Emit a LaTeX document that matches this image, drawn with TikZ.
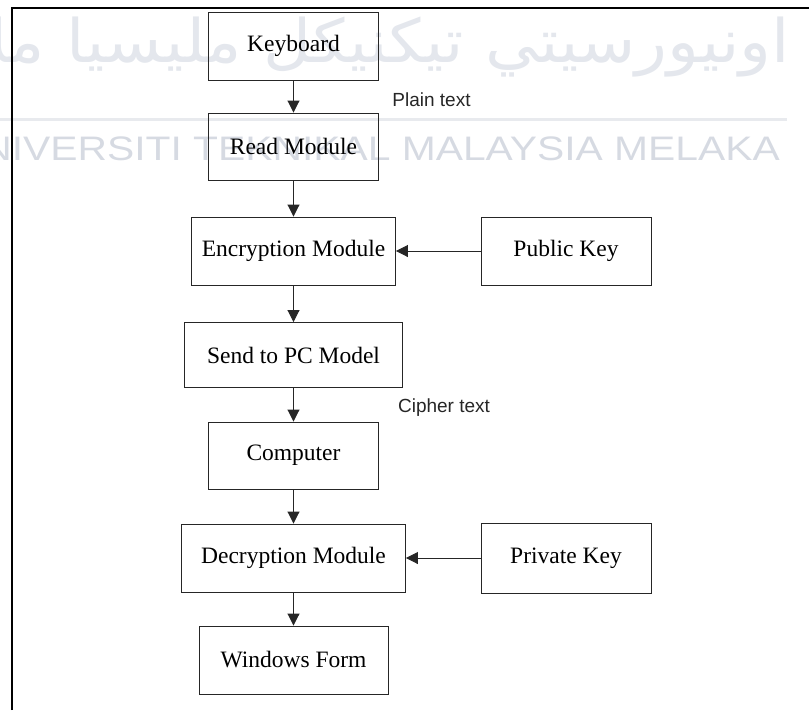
\documentclass[tikz,border=0pt]{standalone}
\usepackage{fontspec}
\setmainfont{Liberation Serif}
\newfontfamily\arialf{Liberation Sans}
\newfontfamily\arabicfont[Script=Arabic]{DejaVu Sans}
\TeXXeTstate=1
\usetikzlibrary{arrows.meta}
\definecolor{wm}{RGB}{214,218,226}
\definecolor{wmar}{RGB}{228,231,237}
\definecolor{wmline}{RGB}{232,234,238}
\begin{document}
\begin{tikzpicture}[x=1pt,y=-1pt,
  box/.style={draw=black!85, line width=0.9pt, minimum width=#1, minimum height=68pt, inner sep=0pt, font=\fontsize{23.5}{28}\selectfont},
  arr/.style={draw=black!85, line width=0.9pt, -{Triangle[length=12pt,width=12pt]}},
  lbl/.style={font=\arialf\fontsize{19}{22}\selectfont, text=black!85, inner sep=0pt},
  frame/.style={draw=black, line width=2pt}]
\useasboundingbox (0,0) rectangle (809,710);
% watermark
\begin{scope}
\clip (0,0) rectangle (809,710);
\node[anchor=base east, text=wmar, inner sep=0pt, font=\arabicfont\fontsize{60}{70}\selectfont, xscale=1.1] (wmar) at (790,62) {\beginR اونيورسيتي تيکنيکل مليسيا ملاک\endR};
\node[anchor=base east, text=wm, inner sep=0pt, font=\arialf\fontsize{34}{40}\selectfont, xscale=1.2] (wmen) at (780,160) {UNIVERSITI TEKNIKAL MALAYSIA MELAKA};
\draw[wmline, line width=3pt] (0,119) -- (787,119);
\end{scope}
% frame
\coordinate (fa) at (12,710);
\coordinate (fb) at (12,8);
\coordinate (fc) at (809,8);
\draw[frame] (fa) -- (fb) -- (fc);
% boxes
\node[box=170pt] (kb) at (293.5,46) {Keyboard};
\node[box=170pt, minimum height=67pt] (rm) at (293.5,146.5) {Read Module};
\node[box=204pt] (enc) at (293.5,251) {Encryption Module};
\node[box=170pt] (pub) at (566,251) {Public Key};
\node[box=218pt, minimum height=65pt] (send) at (293.5,355) {Send to PC Model};
\node[box=170pt, minimum height=67pt] (comp) at (293.5,455.5) {Computer};
\node[box=224pt] (dec) at (293.5,558) {Decryption Module};
\node[box=170pt, minimum height=70pt] (priv) at (566,558) {Private Key};
\node[box=189pt] (win) at (293.5,660) {Windows Form};
% labels
\node[lbl] (plain) at (431.5,100) {Plain text};
\node[lbl] (cipher) at (444,408) {Cipher text};
% arrows
\draw[arr] (kb) -- (rm);
\draw[arr] (rm) -- (enc);
\draw[arr] (pub) -- (enc);
\draw[arr] (enc) -- (send);
\draw[arr] (send) -- (comp);
\draw[arr] (comp) -- (dec);
\draw[arr] (priv) -- (dec);
\draw[arr] (dec) -- (win);
\end{tikzpicture}
\end{document}
